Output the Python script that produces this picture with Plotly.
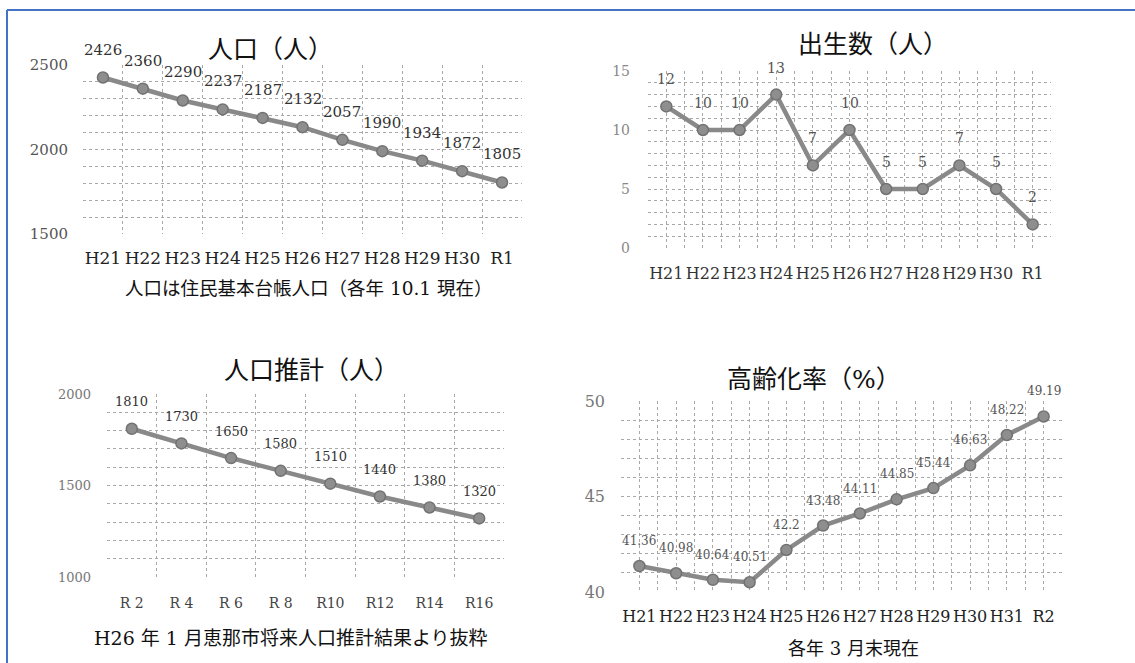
import plotly.graph_objects as go

# ---- data -------------------------------------------------------------
pop_years = ["H21", "H22", "H23", "H24", "H25", "H26", "H27", "H28", "H29", "H30", "R1"]
pop_values = [2426, 2360, 2290, 2237, 2187, 2132, 2057, 1990, 1934, 1872, 1805]

birth_years = ["H21", "H22", "H23", "H24", "H25", "H26", "H27", "H28", "H29", "H30", "R1"]
birth_values = [12, 10, 10, 13, 7, 10, 5, 5, 7, 5, 2]

proj_years = ["R 2", "R 4", "R 6", "R 8", "R10", "R12", "R14", "R16"]
proj_values = [1810, 1730, 1650, 1580, 1510, 1440, 1380, 1320]

aging_years = ["H21", "H22", "H23", "H24", "H25", "H26", "H27", "H28", "H29", "H30", "H31", "R2"]
aging_values = [41.36, 40.98, 40.64, 40.51, 42.2, 43.48, 44.11, 44.85, 45.44, 46.63, 48.22, 49.19]

W, H = 1135, 663
SERIF = "DejaVu Serif, Noto Sans CJK JP"
LINE = "#898989"
GRID = "#a8a8a8"


def px_x(p):
    return p / W


def px_y(p):
    return 1 - p / H


panels = [
    dict(cats=pop_years, vals=pop_values, xr=(83, 522), yr=(65, 234),
         rng=(1500, 2500), major=500, minor=100, fine=False,
         ytf=(15, "#555"), xtf=(17, "#222"), lf=(15, "#333"), shift=28,
         ystand=14, xstand=12),
    dict(cats=birth_years, vals=birth_values, xr=(648, 1051), yr=(71, 248),
         rng=(0, 15), major=5, minor=1, fine=True,
         ytf=(14, "#888"), xtf=(16, "#333"), lf=(14, "#555"), shift=27,
         ystand=17, xstand=14),
    dict(cats=proj_years, vals=proj_values, xr=(107, 504), yr=(394, 577),
         rng=(1000, 2000), major=500, minor=100, fine=False,
         ytf=(13, "#777"), xtf=(14, "#444"), lf=(13, "#333"), shift=27,
         ystand=15, xstand=16),
    dict(cats=aging_years, vals=aging_values, xr=(621, 1062), yr=(401, 592),
         rng=(40, 50), major=5, minor=1, fine=True,
         ytf=(16, "#777"), xtf=(16, "#222"), lf=(12, "#555"), shift=25,
         ystand=15, xstand=13),
]

fig = go.Figure()
annotations = []
layout_axes = {}
grid_style = dict(gridcolor=GRID, griddash="dot", gridwidth=1)

for i, p in enumerate(panels, start=1):
    n = len(p["cats"])
    xa = "x" if i == 1 else f"x{i}"
    ya = "y" if i == 1 else f"y{i}"

    if p["fine"]:
        # numeric positions: grid at every half step, labels on the points
        xs = list(range(n))
        tickvals, ticktext = [], []
        for k in range(n):
            tickvals += [k - 0.5, k]
            ticktext += ["", p["cats"][k]]
        tickvals.append(n - 0.5)
        ticktext.append("")
        xaxis_extra = dict(tickmode="array", tickvals=tickvals, ticktext=ticktext)
    else:
        # category axis with the grid between categories
        xs = p["cats"]
        xaxis_extra = dict(type="category", tickson="boundaries")

    fig.add_trace(go.Scatter(
        x=xs, y=p["vals"], xaxis=xa, yaxis=ya, mode="lines+markers",
        line=dict(color=LINE, width=4.5),
        marker=dict(size=11, color="#8e8e8e", line=dict(color="#727272", width=1.5)),
        showlegend=False, hoverinfo="skip",
    ))

    for x, v in zip(xs, p["vals"]):
        annotations.append(dict(
            x=x, y=v, xref=xa, yref=ya, text=str(v), showarrow=False,
            yshift=p["shift"], xanchor="center", yanchor="middle",
            font=dict(family=SERIF, size=p["lf"][0], color=p["lf"][1]),
        ))

    layout_axes["xaxis" if i == 1 else f"xaxis{i}"] = dict(
        domain=[px_x(p["xr"][0]), px_x(p["xr"][1])], anchor=ya,
        range=[-0.5, n - 0.5], **xaxis_extra,
        showgrid=True, **grid_style, tickangle=0,
        zeroline=False, showline=False, ticks="", automargin=False,
        ticklabelstandoff=p["xstand"],
        tickfont=dict(family=SERIF, size=p["xtf"][0], color=p["xtf"][1]),
        fixedrange=True,
    )
    layout_axes["yaxis" if i == 1 else f"yaxis{i}"] = dict(
        domain=[px_y(p["yr"][1]), px_y(p["yr"][0])],
        anchor=xa, range=list(p["rng"]),
        tickmode="linear", tick0=p["rng"][0], dtick=p["major"],
        showgrid=True, **grid_style,
        minor=dict(tickmode="linear", tick0=p["rng"][0], dtick=p["minor"],
                   showgrid=True, **grid_style),
        zeroline=False, showline=False, ticks="", automargin=False,
        ticklabelstandoff=p["ystand"],
        tickfont=dict(family=SERIF, size=p["ytf"][0], color=p["ytf"][1]),
        fixedrange=True,
    )

# titles and notes under the charts
texts = [
    ("人口（人）", 270, 50, 25),
    ("出生数（人）", 873, 45, 25),
    ("人口推計（人）", 311, 370, 25),
    ("高齢化率（%）", 814, 379, 25),
    ("人口は住民基本台帳人口（各年 10.1 現在）", 309, 288, 18.5),
    ("H26 年 1 月恵那市将来人口推計結果より抜粋", 291, 638, 19),
    ("各年 3 月末現在", 853, 648, 18),
]
for t, cx, cy, fs in texts:
    annotations.append(dict(
        x=px_x(cx), y=px_y(cy), xref="paper", yref="paper", text=t,
        showarrow=False, xanchor="center", yanchor="middle",
        font=dict(family=SERIF, size=fs, color="#111"),
    ))

# blue frame (top and left edges)
shapes = [
    dict(type="line", xref="paper", yref="paper", x0=px_x(7), x1=1.0,
         y0=px_y(10), y1=px_y(10), line=dict(color="#4472C4", width=2)),
    dict(type="line", xref="paper", yref="paper", x0=px_x(7), x1=px_x(7),
         y0=px_y(10), y1=0.0, line=dict(color="#4472C4", width=2)),
]

fig.update_layout(
    width=W, height=H, autosize=False, margin=dict(l=0, r=0, t=0, b=0, pad=0),
    paper_bgcolor="white", plot_bgcolor="white",
    annotations=annotations, shapes=shapes,
    **layout_axes,
)

fig.write_html("out.html", config={"displayModeBar": False})
